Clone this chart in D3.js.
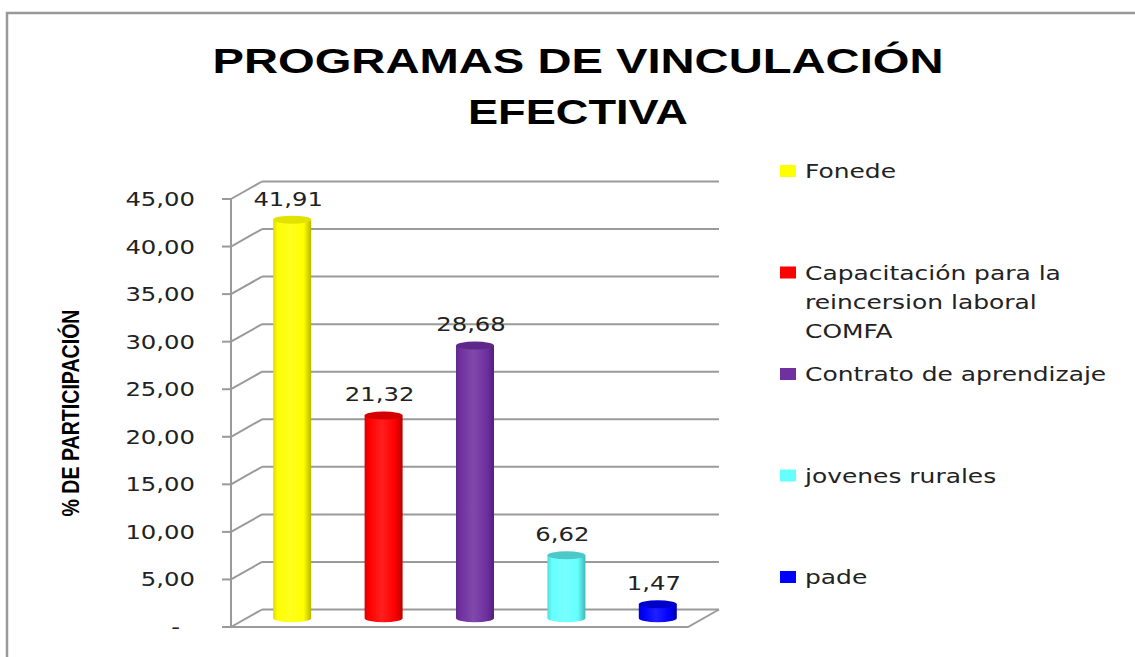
<!DOCTYPE html>
<html>
<head>
<meta charset="utf-8">
<script src="https://cdn.jsdelivr.net/npm/d3@7"></script>
<style>
  body { margin: 0; background: #fff; }
  svg { display: block; }
</style>
</head>
<body>
<script>
const categories = ["Fonede", "Capacitación para la reincersion laboral COMFA", "Contrato de aprendizaje", "jovenes rurales", "pade"];
const values = [41.91, 21.32, 28.68, 6.62, 1.47];
const legendLines = [["Fonede"], ["Capacitación para la", "reincersion laboral", "COMFA"], ["Contrato de aprendizaje"], ["jovenes rurales"], ["pade"]];
const colors = ["#ffff00", "#ff0000", "#7030a0", "#66ffff", "#0000ff"];
const edgeColors = ["#b8b800", "#b80000", "#52207a", "#40b8b8", "#0000a8"];
const topColors = ["#e2e200", "#d40000", "#5e2888", "#4cc8c8", "#0000cc"];
const yTicks = [0, 5, 10, 15, 20, 25, 30, 35, 40, 45];
const titleLines = ["PROGRAMAS DE VINCULACIÓN", "EFECTIVA"];
const yTitle = "% DE PARTICIPACIÓN";

const W = 1135, H = 657;
const SX = 1.28; // the picture is stretched sideways
const depth = { dx: 31, dy: -17.5 };

const svg = d3.select("body").append("svg")
  .attr("width", W)
  .attr("height", H);

const defs = svg.append("defs");

// frame
svg.append("rect")
  .attr("x", 7).attr("y", 13)
  .attr("width", W + 20).attr("height", H + 20)
  .attr("fill", "none")
  .attr("stroke", "#999")
  .attr("stroke-width", 2.5);

// title
svg.selectAll(".title")
  .data(titleLines)
  .enter()
  .append("text")
  .attr("class", "title")
  .attr("x", 578)
  .attr("y", (d, i) => 73 + i * 51)
  .attr("text-anchor", "middle")
  .attr("font-family", "'Liberation Sans', Arial, sans-serif")
  .attr("font-weight", "bold")
  .attr("font-size", 35)
  .attr("textLength", (d, i) => i === 0 ? 731 : 220)
  .attr("lengthAdjust", "spacingAndGlyphs")
  .attr("fill", "#000")
  .text(d => d);

const x = d3.scaleBand()
  .domain(categories)
  .range([231, 688]);

const y = d3.scaleLinear()
  .domain([0, 45])
  .range([627, 199]);

const fmt = d3.formatLocale({ decimal: ",", thousands: ".", grouping: [3], currency: ["", ""] }).format(",.2f");

// walls and grid
const grid = svg.append("g").attr("stroke", "#9a9a9a").attr("stroke-width", 2).attr("fill", "none");

grid.selectAll(".back")
  .data(yTicks)
  .enter()
  .append("line")
  .attr("x1", x.range()[0] + depth.dx)
  .attr("x2", x.range()[1] + depth.dx)
  .attr("y1", d => y(d) + depth.dy)
  .attr("y2", d => y(d) + depth.dy);

grid.selectAll(".side")
  .data(yTicks)
  .enter()
  .append("line")
  .attr("x1", x.range()[0])
  .attr("x2", x.range()[0] + depth.dx)
  .attr("y1", d => y(d))
  .attr("y2", d => y(d) + depth.dy);

grid.selectAll(".tick")
  .data(yTicks)
  .enter()
  .append("line")
  .attr("x1", x.range()[0] - 9)
  .attr("x2", x.range()[0])
  .attr("y1", d => y(d))
  .attr("y2", d => y(d));

grid.append("line")
  .attr("x1", x.range()[0]).attr("x2", x.range()[0])
  .attr("y1", y(45)).attr("y2", y(0));

// floor
grid.append("path")
  .attr("d", `M${x.range()[0]},${y(0)}L${x.range()[1]},${y(0)}L${x.range()[1] + depth.dx},${y(0) + depth.dy}`);

// y tick labels
svg.selectAll(".ylab")
  .data(yTicks)
  .enter()
  .append("g")
  .attr("transform", d => `translate(${d === 0 ? 180 : 195},${y(d) + 7}) scale(${SX},1)`)
  .append("text")
  .attr("text-anchor", "end")
  .attr("font-family", "'DejaVu Sans', Verdana, sans-serif")
  .attr("font-size", 19)
  .attr("fill", "#222")
  .text(d => d === 0 ? "-" : fmt(d));

// y axis title
svg.append("g")
  .attr("transform", `translate(${79},${413}) scale(${SX},1) rotate(-90)`)
  .append("text")
  .attr("text-anchor", "middle")
  .attr("font-family", "'Liberation Sans', Arial, sans-serif")
  .attr("font-weight", "bold")
  .attr("font-size", 18)
  .attr("textLength", 207)
  .attr("lengthAdjust", "spacingAndGlyphs")
  .attr("fill", "#000")
  .text(yTitle);

// cylinders
const barW = 38, ry = 4;
const bars = categories.map((c, i) => ({
  cat: c,
  value: values[i],
  color: colors[i],
  edge: edgeColors[i],
  top: topColors[i],
  cx: x(c) + x.bandwidth() / 2 + depth.dx / 2,
  yTop: y(values[i]) + depth.dy / 2,
  yBot: y(0) + depth.dy / 2,
  i: i
}));

bars.forEach(b => {
  const g = defs.append("linearGradient")
    .attr("id", "grad" + b.i)
    .attr("x1", 0).attr("x2", 1).attr("y1", 0).attr("y2", 0);
  g.append("stop").attr("offset", 0).attr("stop-color", d3.interpolateRgb(b.edge, b.color)(0.5));
  g.append("stop").attr("offset", 0.12).attr("stop-color", b.color);
  g.append("stop").attr("offset", 0.45).attr("stop-color", d3.interpolateRgb(b.color, "#fff")(0.12));
  g.append("stop").attr("offset", 0.8).attr("stop-color", b.color);
  g.append("stop").attr("offset", 1).attr("stop-color", b.edge);
});

const barG = svg.append("g");

barG.selectAll(".body")
  .data(bars)
  .enter()
  .append("path")
  .attr("d", b => {
    const l = b.cx - barW / 2, r = b.cx + barW / 2;
    return `M${l},${b.yTop}L${l},${b.yBot}A${barW / 2},${ry} 0 0 0 ${r},${b.yBot}L${r},${b.yTop}Z`;
  })
  .attr("fill", b => `url(#grad${b.i})`);

barG.selectAll(".top")
  .data(bars)
  .enter()
  .append("ellipse")
  .attr("cx", b => b.cx)
  .attr("cy", b => b.yTop)
  .attr("rx", barW / 2)
  .attr("ry", ry)
  .attr("fill", b => b.top);

// value labels
svg.selectAll(".vlab")
  .data(bars)
  .enter()
  .append("g")
  .attr("transform", b => `translate(${b.cx - 4},${b.yTop - 14}) scale(${SX},1)`)
  .append("text")
  .attr("text-anchor", "middle")
  .attr("font-family", "'DejaVu Sans', Verdana, sans-serif")
  .attr("font-size", 19)
  .attr("fill", "#222")
  .text(b => fmt(b.value));

// legend
const legend = svg.selectAll(".legend")
  .data(categories)
  .enter()
  .append("g")
  .attr("transform", (d, i) => `translate(780,${171 + i * 101.5})`);

legend.append("rect")
  .attr("x", 0).attr("y", -6)
  .attr("width", 16).attr("height", 12)
  .attr("fill", (d, i) => colors[i]);

legend.each(function (d, i) {
  const t = d3.select(this).append("g")
    .attr("transform", `translate(25,7) scale(${SX},1)`)
    .append("text")
    .attr("font-family", "'DejaVu Sans', Verdana, sans-serif")
    .attr("font-size", 19.5)
    .attr("fill", "#222");
  legendLines[i].forEach((line, k) => {
    t.append("tspan").attr("x", 0).attr("y", k * 29.5).text(line);
  });
});
</script>
</body>
</html>
